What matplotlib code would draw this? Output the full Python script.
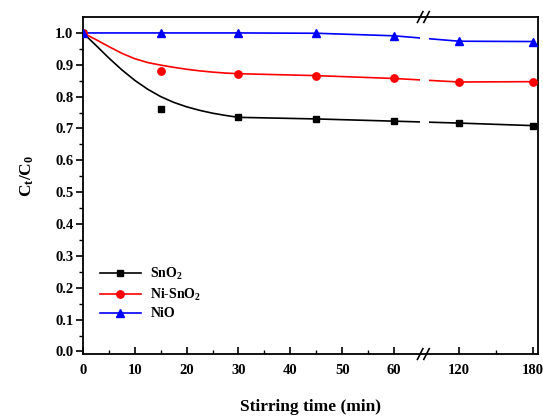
import numpy as np
import matplotlib
matplotlib.use("Agg")
import matplotlib.pyplot as plt
from matplotlib.lines import Line2D
from matplotlib.patches import Rectangle
from matplotlib.ticker import FixedLocator, FormatStrFormatter

plt.rcParams["font.family"] = ["Liberation Serif", "DejaVu Serif"]
plt.rcParams["font.weight"] = "bold"
plt.rcParams["mathtext.fontset"] = "custom"
plt.rcParams["mathtext.rm"] = "Liberation Serif:bold"
plt.rcParams["mathtext.it"] = "Liberation Serif:bold"
plt.rcParams["mathtext.bf"] = "Liberation Serif:bold"

# measured points (stirring time in min)
time_min = [0, 15, 30, 45, 60, 120, 180]
sno2 = [1.0, 0.762, 0.735, 0.730, 0.723, 0.717, 0.709]
ni_sno2 = [1.0, 0.882, 0.871, 0.866, 0.857, 0.846, 0.847]
nio = [1.0, 1.0, 1.0, 0.999, 0.991, 0.974, 0.973]

# fitted curves over the first 30 min
fit_time = [0, 2.5, 5, 7.5, 10, 12.5, 15, 17.5, 20, 22.5, 25, 27.5, 30]
sno2_fit = [1.0, 0.961, 0.921, 0.884, 0.851, 0.823, 0.800, 0.782, 0.768, 0.757, 0.748, 0.741, 0.735]
ni_sno2_fit = [1.0, 0.979, 0.957, 0.936, 0.919, 0.907, 0.899, 0.892, 0.886, 0.881, 0.877, 0.874, 0.872]

x_ticks = [0, 10, 20, 30, 40, 50, 60, 120, 180]
x_minor = [5, 15, 25, 35, 45, 55, 150]

# broken time axis: 0-60 linear, 60-120 squeezed, 120-180 compressed
K1 = 12.55 / 60.0
K2 = 14.29 / 60.0
U60 = 60.0
U120 = U60 + 60.0 * K1


def fwd(x):
    x = np.asarray(x, dtype=float)
    return np.where(x <= 60, x,
                    np.where(x <= 120, U60 + (x - 60) * K1, U120 + (x - 120) * K2))


def inv(u):
    u = np.asarray(u, dtype=float)
    return np.where(u <= U60, u,
                    np.where(u <= U120, 60 + (u - U60) / K1, 120 + (u - U120) / K2))


fig = plt.figure(figsize=(5.43, 4.17), dpi=100)
ax = fig.add_axes([0.1529, 0.1511, 0.8379, 0.8081])
ax.set_xscale("function", functions=(fwd, inv))

series = [
    ("SnO$_2$", sno2, sno2_fit, "black", "s", 4.3),
    ("Ni-SnO$_2$", ni_sno2, ni_sno2_fit, "red", "o", 5.3),
    ("NiO", nio, None, "blue", "^", 5.5),
]

handles = []
for label, vals, fit, color, marker, ms in series:
    if fit is not None:
        line_x = fit_time + time_min[3:]
        line_y = fit + vals[3:]
    else:
        line_x, line_y = time_min, vals
    ax.plot(line_x, line_y, color=color, lw=1.2, zorder=2)
    ax.plot(time_min, vals, ls="none", marker=marker, ms=ms, color=color, zorder=3)
    handles.append(Line2D([], [], color=color, lw=1.2, marker=marker, ms=ms, label=label))

# gap in the lines at the axis break
ax.add_patch(Rectangle((0.741, 0.004), 0.019, 0.992, transform=ax.transAxes,
                       facecolor="white", edgecolor="none", zorder=4))

# break marks on the top and bottom spines
for yb in (0.0, 1.0):
    for dx in (-0.008, 0.006):
        ax.add_line(Line2D([0.743 + dx, 0.755 + dx], [yb - 0.016, yb + 0.016],
                           transform=ax.transAxes, color="black", lw=1.2,
                           clip_on=False, zorder=6))

ax.set_xlim(0, 184)
ax.set_ylim(-0.008, 1.05)

ax.xaxis.set_major_locator(FixedLocator(x_ticks))
ax.xaxis.set_minor_locator(FixedLocator(x_minor))
ax.set_xticklabels([str(t) for t in x_ticks])
ax.set_yticks(np.arange(0, 1.01, 0.1))
ax.set_yticks(np.arange(0.05, 1.0, 0.1), minor=True)
ax.yaxis.set_major_formatter(FormatStrFormatter("%.1f"))

ax.tick_params(axis="x", which="both", direction="in", top=False, labelsize=10.5, pad=7)
ax.tick_params(axis="x", which="major", length=5, width=1.2)
ax.tick_params(axis="x", which="minor", length=3, width=1.0)
ax.tick_params(axis="y", which="both", direction="out", right=False, labelsize=10.5, pad=2)
ax.tick_params(axis="y", which="major", length=5, width=1.2)
ax.tick_params(axis="y", which="minor", length=3, width=1.0)
for lab in ax.get_xticklabels() + ax.get_yticklabels():
    lab.set_fontweight("bold")

for sp in ax.spines.values():
    sp.set_linewidth(1.3)

ax.set_xlabel("Stirring time (min)", fontsize=12.5, fontweight="bold", labelpad=16)
ax.set_ylabel("C$_\\mathrm{t}$/C$_\\mathrm{0}$", fontsize=12.5, fontweight="bold")
ax.yaxis.set_label_coords(-0.104, 0.53)

ax.legend(handles=handles, loc="center left", bbox_to_anchor=(0.038, 0.181),
          frameon=False, handlelength=2.9, handletextpad=0.7,
          labelspacing=0.35, borderpad=0, borderaxespad=0,
          prop={"weight": "bold", "size": 10})

fig.savefig("out.png", dpi=100)
